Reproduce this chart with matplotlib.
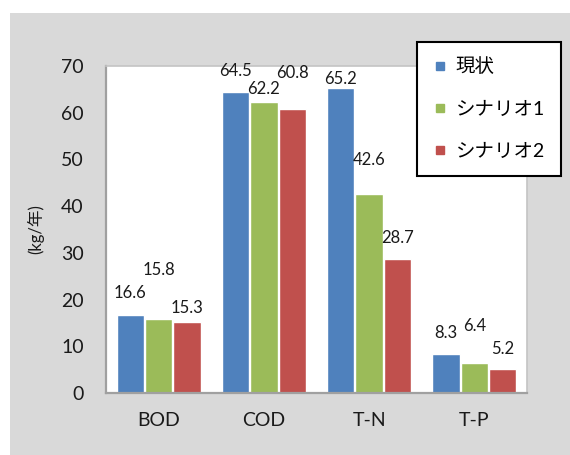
import matplotlib
import numpy as np

matplotlib.use("Agg")
import matplotlib.pyplot as plt
from matplotlib.lines import Line2D
from matplotlib.patches import Rectangle

plt.rcParams["font.family"] = ["Lato", "Noto Sans CJK JP", "DejaVu Sans"]

categories = ["BOD", "COD", "T-N", "T-P"]
series_names = ["現状", "シナリオ1", "シナリオ2"]
current = [16.6, 64.5, 65.2, 8.3]
scenario1 = [15.8, 62.2, 42.6, 6.4]
scenario2 = [15.3, 60.8, 28.7, 5.2]
y_ticks = [0, 10, 20, 30, 40, 50, 60, 70]
y_label = "(kg/年)"

colors = ["#4f81bd", "#9bbb59", "#c0504d"]
# label lift above each bar top, in pixels (rows follow the series)
label_lift = [
    [22, 21, 9, 21],
    [49, 13, 34, 37],
    [14, 36, 21, 20],
]

fig = plt.figure(figsize=(5.7, 4.55), dpi=100)
fig.patch.set_facecolor("white")
fig.patches.append(Rectangle((10 / 570, 0), 1 - 10 / 570, 1 - 13 / 455,
                             transform=fig.transFigure, facecolor="#d9d9d9",
                             edgecolor="none", zorder=-5))

ax = fig.add_axes([106 / 570, 1 - 393 / 455, (527 - 106) / 570, (393 - 66) / 455])
ax.set_facecolor("white")
ax.set_zorder(1)

x = np.arange(len(categories))
width = 0.26
step = 0.27
for i, values in enumerate([current, scenario1, scenario2]):
    pos = x + (i - 1) * step
    ax.bar(pos, values, width=width, color=colors[i], edgecolor="white",
           linewidth=1.0, zorder=2)
    for j, v in enumerate(values):
        ax.annotate(f"{v:.1f}", (pos[j], v), xytext=(0, label_lift[i][j]),
                    textcoords="offset pixels", ha="center", va="center",
                    fontsize=12, color="#1a1a1a")

ax.set_xlim(-0.5, len(categories) - 0.5)
ax.set_ylim(0, 70)
ax.set_yticks(y_ticks)
ax.set_xticks(x)
ax.set_xticklabels(categories)
ax.tick_params(axis="both", length=0, labelsize=14, colors="#1a1a1a")
ax.tick_params(axis="y", pad=16)
ax.tick_params(axis="x", pad=14)
ax.set_ylabel(y_label, fontsize=12, labelpad=12, color="#1a1a1a")

for side in ["left", "bottom"]:
    ax.spines[side].set_color("#a0a0a0")
    ax.spines[side].set_linewidth(1.6)
for side in ["top", "right"]:
    ax.spines[side].set_color("#c4c4c4")
    ax.spines[side].set_linewidth(1.2)

handles = [Line2D([], [], linestyle="none", marker="s", markersize=6,
                  markerfacecolor=c, markeredgecolor=c) for c in colors]
leg = fig.legend(handles, series_names, loc="upper left",
                 bbox_to_anchor=(417 / 570, 1 - 42 / 455), fontsize=14,
                 frameon=True, fancybox=False, edgecolor="black",
                 facecolor="white", framealpha=1,
                 handlelength=0.8, handletextpad=0.4, labelspacing=1.3,
                 borderpad=0.8, borderaxespad=0)
leg.get_frame().set_linewidth(1.5)
leg.set_zorder(5)

fig.savefig("out.png", dpi=100)
